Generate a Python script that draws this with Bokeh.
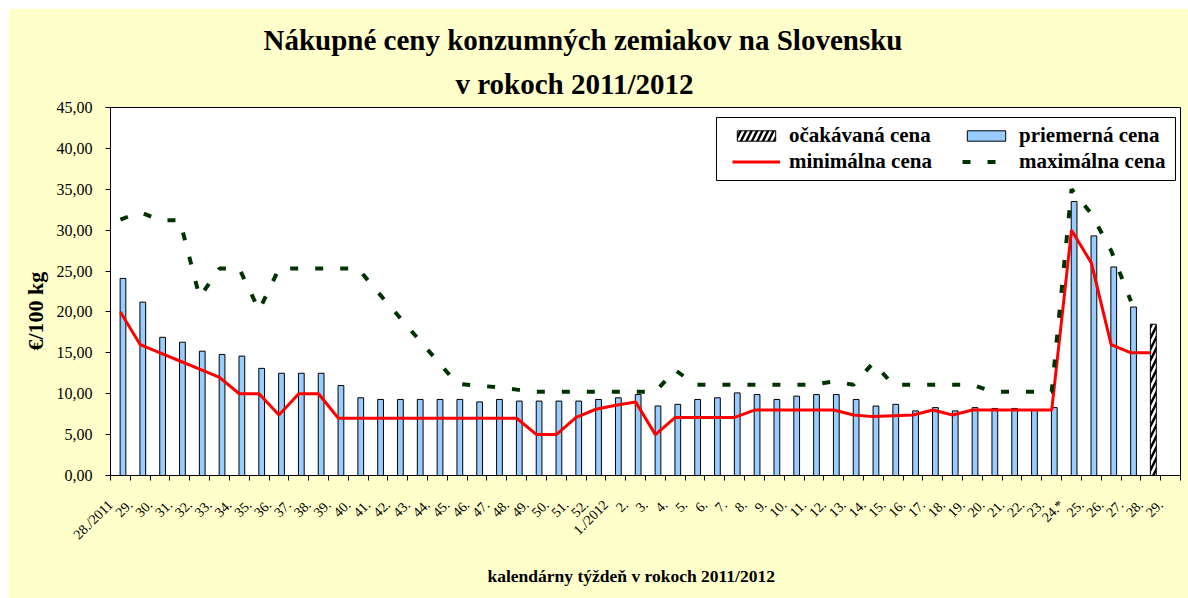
import math
from bokeh.plotting import figure
from bokeh.models import Range1d, FixedTicker, Legend, LegendItem, Title, BoxAnnotation
from bokeh.embed import file_html
from bokeh.resources import INLINE

# ---------------- data ----------------
weeks = (["28./2011"] + [f"{w}." for w in range(29, 53)] + ["1./2012"]
         + [f"{w}." for w in range(2, 24)] + ["24.*", "25.", "26.", "27.", "28.", "29."])

avg_price = [24.1, 21.2, 16.9, 16.3, 15.2, 14.8, 14.6, 13.1, 12.5, 12.5, 12.5, 11.0,
             9.5, 9.3, 9.3, 9.3, 9.3, 9.3, 9.0, 9.3, 9.1, 9.1,
             9.1, 9.1, 9.3, 9.5, 9.9, 8.5, 8.7, 9.3, 9.5, 10.1, 9.9, 9.3, 9.7, 9.9,
             9.9, 9.3, 8.5, 8.7, 7.9, 8.3, 7.9, 8.3, 8.2, 8.2, 8.0, 8.3,
             33.5, 29.3, 25.5, 20.6]

expected_price = [18.5]

min_price = [20, 16, 15, 14, 13, 12, 10, 10, 7.4, 10, 10,
             7, 7, 7, 7, 7, 7, 7, 7, 7, 7,
             5, 5, 7.1, 8.1, 8.6, 9.0, 5, 7.1, 7.1, 7.1, 7.1,
             8, 8, 8, 8, 8, 7.4, 7.2, 7.3, 7.4, 8, 7.4,
             8, 8, 8, 8, 8, 30, 26, 16, 15, 15]

max_price = [31.3, 32.2, 31.2, 31.2, 21.8, 25.3, 25.3, 20.2, 25.3, 25.3, 25.3, 25.3, 25.3,
             22.4, 19.6, 16.8, 14.0, 11.2, 11.0, 10.8, 10.5,
             10.25, 10.25, 10.25, 10.25, 10.25, 10.25, 10.25, 12.9,
             11.1, 11.1, 11.1, 11.1, 11.1, 11.1, 11.1, 11.5, 11.1, 13.8,
             11.1, 11.1, 11.1, 11.1, 11.1, 10.25, 10.25, 10.25, 10.25,
             35.0, 32.0, 27.5, 21.3]

y_ticks = list(range(0, 50, 5))
y_labels = [f"{t},00" for t in y_ticks]

# ---------------- figure ----------------
n_slots = len(weeks)
BAR_OFF = 0.63
LINE_OFF = 0.5

p = figure(width=1180, height=590, output_backend="svg", toolbar_location=None,
           x_range=Range1d(0, n_slots), y_range=Range1d(0, 45),
           min_border_left=102, min_border_right=8, min_border_top=99,
           min_border_bottom=123, title=None)
p.margin = (8, 0, 0, 8)
p.border_fill_color = "#FFFFCC"
p.background_fill_color = "white"
p.outline_line_color = "black"
p.outline_line_width = 1
p.xgrid.visible = False
p.ygrid.visible = False

bar_x = [i + BAR_OFF for i in range(len(avg_price))]
exp_x = [len(avg_price) + BAR_OFF]
line_x_min = [i + LINE_OFF for i in range(len(min_price))]
line_x_max = [i + LINE_OFF for i in range(len(max_price))]

r_avg = p.vbar(x=bar_x, top=avg_price, width=0.29, fill_color="#99CCFF",
               line_color="black", line_width=1)
r_exp = p.vbar(x=exp_x, top=expected_price, width=0.30, fill_color="white",
               line_color="black", line_width=1, hatch_pattern="/",
               hatch_color="black", hatch_scale=11, hatch_weight=2.5)
r_min = p.line(line_x_min, min_price, line_color="#FF0000", line_width=3)
r_max = p.line(line_x_max, max_price, line_color="#003300", line_width=4,
               line_dash="8 17")

# axes
p.xaxis.ticker = FixedTicker(ticks=list(range(n_slots + 1)))
overrides = {i: lab for i, lab in enumerate(weeks)}
overrides[n_slots] = ""
p.xaxis.major_label_overrides = overrides
p.xaxis.major_label_orientation = math.pi / 4
p.xaxis.major_label_text_font = "Liberation Serif"
p.xaxis.major_label_text_font_size = "14px"
p.xaxis.major_label_text_color = "black"
p.xaxis.major_label_standoff = 22
p.xaxis.minor_tick_line_color = None
p.xaxis.major_tick_in = 0
p.xaxis.major_tick_out = 5
p.xaxis.axis_line_color = "black"
p.xaxis.major_tick_line_color = "black"

p.yaxis.ticker = FixedTicker(ticks=y_ticks)
p.yaxis.major_label_overrides = {t: lab for t, lab in zip(y_ticks, y_labels)}
p.yaxis.major_label_text_font = "Liberation Serif"
p.yaxis.major_label_text_font_size = "16px"
p.yaxis.major_label_text_color = "black"
p.yaxis.major_label_standoff = 13
p.yaxis.minor_tick_line_color = None
p.yaxis.major_tick_in = 0
p.yaxis.major_tick_out = 5
p.yaxis.axis_line_color = "black"
p.yaxis.major_tick_line_color = "black"

# titles
p.add_layout(Title(text="v rokoch 2011/2012", align="left", offset=345, standoff=16,
                   text_font="Liberation Serif", text_font_style="bold",
                   text_font_size="29px", text_color="black"), "above")
p.add_layout(Title(text="Nákupné ceny konzumných zemiakov na Slovensku", align="left",
                   offset=153, standoff=3,
                   text_font="Liberation Serif", text_font_style="bold",
                   text_font_size="29px", text_color="black"), "above")
p.add_layout(Title(text="kalendárny týždeň v rokoch 2011/2012", align="left", offset=377,
                   standoff=26,
                   text_font="Liberation Serif", text_font_style="bold",
                   text_font_size="17.5px", text_color="black"), "below")
p.add_layout(Title(text="€/100 kg", align="left", offset=125, standoff=12,
                   text_font="Liberation Serif", text_font_style="bold",
                   text_font_size="22px", text_color="black"), "left")

# legend box + two legend columns
PX_X = 1070 / n_slots
PX_Y = 368 / 45.0


def dx(page_x):
    return (page_x - 110) / PX_X


def dy(page_y):
    return (475 - page_y) / PX_Y


p.add_layout(BoxAnnotation(left=dx(716), right=dx(1175), top=dy(117), bottom=dy(180),
                           fill_color="white", fill_alpha=1.0, line_color="black",
                           line_width=1, line_alpha=1.0))

common = dict(glyph_width=48, glyph_height=13, label_standoff=9, spacing=1,
              padding=5, margin=0, label_text_font="Liberation Serif",
              label_text_font_style="bold", label_text_font_size="21px",
              label_text_color="black", border_line_alpha=0, background_fill_alpha=0)
leg1 = Legend(items=[LegendItem(label="očakávaná cena", renderers=[r_exp]),
                     LegendItem(label="minimálna cena", renderers=[r_min])],
              location=(617, 296), label_width=100, **common)
leg2 = Legend(items=[LegendItem(label="priemerná cena", renderers=[r_avg]),
                     LegendItem(label="maximálna cena", renderers=[r_max])],
              location=(847, 296), label_width=100, **common)
p.add_layout(leg1)
p.add_layout(leg2)

open("out.html", "w").write(file_html(p, INLINE))
